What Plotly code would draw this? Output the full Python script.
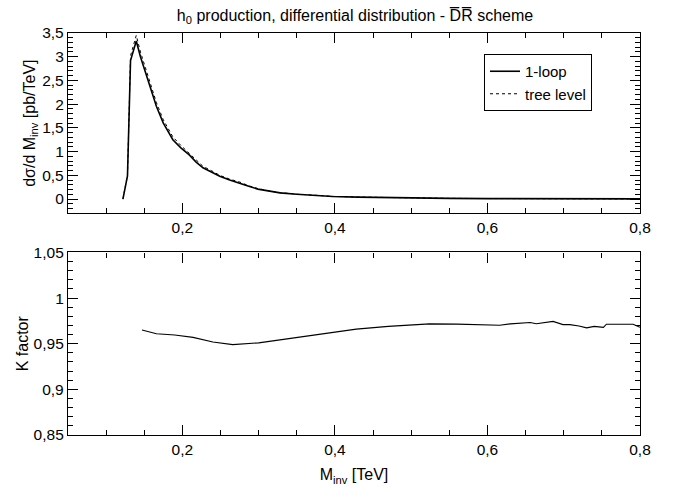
import plotly.graph_objects as go

# top panel: differential distribution (pb/TeV) vs M_inv (TeV)
loop_x = [0.122, 0.128, 0.132, 0.1395, 0.145, 0.152, 0.16, 0.166, 0.175, 0.1875, 0.198, 0.209, 0.218,
          0.227, 0.238, 0.249, 0.262, 0.275, 0.287, 0.299, 0.315, 0.328, 0.35, 0.375, 0.397, 0.43,
          0.47, 0.5, 0.55, 0.6, 0.65, 0.7, 0.75, 0.8]
loop_y = [0.0, 0.49, 2.92, 3.33, 3.0, 2.64, 2.24, 1.95, 1.6, 1.25, 1.08, 0.93, 0.78, 0.66, 0.57, 0.48,
          0.40, 0.34, 0.27, 0.21, 0.16, 0.13, 0.1, 0.075, 0.055, 0.04, 0.028, 0.022, 0.014, 0.01,
          0.007, 0.005, 0.004, 0.003]
tree_x = loop_x
tree_y = [0.0, 0.51, 3.02, 3.45, 3.1, 2.74, 2.33, 2.03, 1.67, 1.31, 1.13, 0.97, 0.82, 0.69, 0.60, 0.50,
          0.42, 0.36, 0.28, 0.22, 0.17, 0.135, 0.105, 0.078, 0.057, 0.042, 0.029, 0.023, 0.015, 0.011,
          0.007, 0.005, 0.004, 0.003]

# bottom panel: K factor
k_x = [0.147, 0.166, 0.19, 0.214, 0.24, 0.266, 0.3, 0.354, 0.39, 0.428, 0.47, 0.524, 0.56, 0.594,
       0.605, 0.616, 0.63, 0.656, 0.664, 0.686, 0.699, 0.708, 0.72, 0.73, 0.74, 0.747, 0.752, 0.756,
       0.775, 0.791, 0.8]
k_y = [0.965, 0.961, 0.9595, 0.957, 0.952, 0.949, 0.951, 0.9575, 0.962, 0.966, 0.969, 0.9718, 0.9715,
       0.9707, 0.9712, 0.9702, 0.9718, 0.9733, 0.972, 0.9745, 0.971, 0.971, 0.9695, 0.9674, 0.969,
       0.9685, 0.968, 0.9714, 0.9716, 0.9714, 0.968]

FONT = "Liberation Sans, Arial, Helvetica, sans-serif"
TICK = 15.5
TXT = 16
fig = go.Figure()
fig.add_trace(go.Scatter(x=loop_x, y=loop_y, mode="lines", name="1-loop",
                         line=dict(color="black", width=1.6), xaxis="x", yaxis="y"))
fig.add_trace(go.Scatter(x=tree_x, y=tree_y, mode="lines", name="tree level",
                         line=dict(color="black", width=1, dash="dot"), xaxis="x", yaxis="y"))
fig.add_trace(go.Scatter(x=k_x, y=k_y, mode="lines", showlegend=False,
                         line=dict(color="black", width=1.1), xaxis="x2", yaxis="y2"))

axis_common = dict(showline=True, linecolor="black", linewidth=1.3, mirror="ticks", ticks="inside",
                   ticklen=10, tickwidth=1, tickcolor="black", showgrid=False, zeroline=False,
                   automargin=False,
                   tickfont=dict(family=FONT, size=TICK, color="black"))
minor_x = dict(dtick=0.05, ticklen=5, tickcolor="black", ticks="inside", showgrid=False)

fig.update_layout(
    width=680, height=489, paper_bgcolor="white", plot_bgcolor="white",
    margin=dict(l=68, r=40, t=33, b=54),
    separators=",.",
    font=dict(family=FONT, size=TXT, color="black"),
    title=dict(text="h<sub>0</sub> production, differential distribution - D\u0305R\u0305 scheme",
               x=355/680, xanchor="center", y=1-15/489, yanchor="middle",
               font=dict(family=FONT, size=TXT, color="black")),
    xaxis=dict(domain=[0, 1], range=[0.05, 0.8], tick0=0, dtick=0.2, anchor="y",
               minor=minor_x, **axis_common),
    yaxis=dict(domain=[0.5515, 1], range=[-0.3, 3.5], tick0=0, dtick=0.5, anchor="x",
               minor=dict(dtick=0.1, ticklen=5, tickcolor="black", ticks="inside", showgrid=False),
               title=dict(text="d\u03c3/d M<sub>inv</sub> [pb/TeV]", standoff=2,
                          font=dict(family=FONT, size=TXT)),
               **axis_common),
    xaxis2=dict(domain=[0, 1], range=[0.05, 0.8], tick0=0, dtick=0.2, anchor="y2",
                minor=minor_x,
                title=dict(text="M<sub>inv</sub> [TeV]", standoff=12, font=dict(family=FONT, size=TXT)),
                **axis_common),
    yaxis2=dict(domain=[0, 0.454], range=[0.85, 1.05], tick0=0.85, dtick=0.05, anchor="x2",
                minor=dict(dtick=0.01, ticklen=5, tickcolor="black", ticks="inside", showgrid=False),
                title=dict(text="K factor", standoff=0, font=dict(family=FONT, size=TXT)),
                **axis_common),
    legend=dict(x=(484-68)/572, xanchor="left", y=(435-54)/402, yanchor="top",
                bordercolor="black", borderwidth=1, bgcolor="white",
                font=dict(family=FONT, size=15, color="black"), tracegroupgap=0),
)

fig.write_html("out.html")
